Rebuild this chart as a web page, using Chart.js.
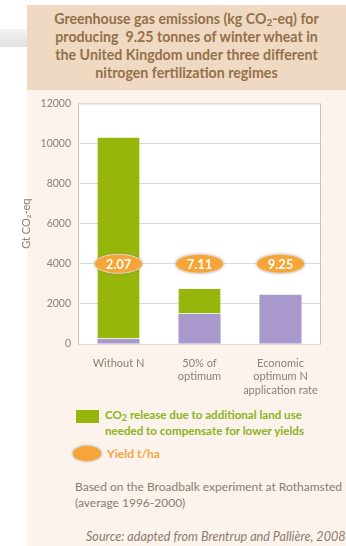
<!DOCTYPE html>
<html>
<head>
<meta charset="utf-8">
<script src="https://cdn.jsdelivr.net/npm/chart.js@4.4.0/dist/chart.umd.min.js"></script>
<style>
  body { margin: 0; background: #fff; font-family: Lato, "Open Sans", sans-serif; }
  #page { position: relative; width: 346px; height: 546px; overflow: hidden; background: #fff; }
  #stripe { position: absolute; left: 0; top: 29px; width: 40px; height: 18px;
            background: linear-gradient(to bottom, #f3f3f3, #e2e2e2); }
  #head { position: absolute; left: 27px; top: 5px; width: 319px; height: 85px; background: #f0d9c3; }
  #title { position: absolute; left: 27px; top: 10px; width: 319px; text-align: center;
           font-weight: bold; font-size: 14.2px; line-height: 18px; color: #93704a; }
  #title sub { font-size: 10px; vertical-align: -2px; line-height: 0; }
  #body { position: absolute; left: 27px; top: 90px; width: 319px; height: 456px; background: #fbf3ec; }
  #chart { position: absolute; left: 0; top: 90px; }
  .txt { position: absolute; font-size: 12px; line-height: 16px; white-space: nowrap; }
  .green { color: #8fb21c; font-weight: bold; font-size: 11.6px; }
  .orange { color: #f5a53c; font-weight: bold; }
  .note { color: #8e7c6b; }
  .txt sub { font-size: 9px; vertical-align: -2px; line-height: 0; }
  #sw1 { position: absolute; left: 76px; top: 410px; width: 23px; height: 13px; background: #97b60c; }
  #sw2 { position: absolute; left: 73px; top: 446px; width: 28px; height: 15px; border-radius: 50%;
         background: #f6a538; box-shadow: 0 0 2px 1px #c9bdb2; }
</style>
</head>
<body>
<div id="page">
  <div id="stripe"></div>
  <div id="head"></div>
  <div id="title">Greenhouse gas emissions (kg CO<sub>2</sub>-eq) for<br>producing&nbsp; 9.25 tonnes of winter wheat in<br>the United Kingdom under three different<br>nitrogen fertilization regimes</div>
  <div id="body"></div>
  <canvas id="chart" width="346" height="310"></canvas>
  <div id="sw1"></div>
  <div class="txt green" style="left:105px; top:407px;">CO<sub>2</sub> release due to additional land use<br>needed to compensate for lower yields</div>
  <div id="sw2"></div>
  <div class="txt orange" style="left:107px; top:446px;">Yield t/ha</div>
  <div class="txt note" style="left:75px; top:479px;">Based on the Broadbalk experiment at Rothamsted<br>(average 1996-2000)</div>
  <div class="txt note" style="left:86px; top:529px; font-style: italic; font-size: 12.6px;">Source: adapted from Brentrup and Pallière, 2008</div>
</div>
<script>
// categories and values
var categories = [["Without N"], ["50% of", "optimum"], ["Economic", "optimum N", "application rate"]];
var baseEmissions = [250, 1500, 2450];        // purple part
var landUseEmissions = [10050, 1250, 0];      // green part
var yields = ["2.07", "7.11", "9.25"];       // t/ha
var yTicks = [0, 2000, 4000, 6000, 8000, 10000, 12000];

var axisGray = '#8e8073';

// white plot box with grey frame
var plotBox = {
  id: 'plotBox',
  beforeDraw: function(chart) {
    var a = chart.chartArea, c = chart.ctx;
    c.save();
    c.fillStyle = '#ffffff';
    c.fillRect(a.left, a.top, a.right - a.left, a.bottom - a.top);
    c.strokeStyle = '#c8c2bb';
    c.lineWidth = 1;
    c.strokeRect(a.left + 0.5, a.top + 0.5, a.right - a.left - 1, a.bottom - a.top);
    c.restore();
  }
};

// orange yield ovals sitting on the 4000 line
var yieldOvals = {
  id: 'yieldOvals',
  afterDatasetsDraw: function(chart) {
    var c = chart.ctx;
    var meta = chart.getDatasetMeta(0);
    var y = chart.scales.y.getPixelForValue(4000);
    c.save();
    meta.data.forEach(function(bar, i) {
      c.beginPath();
      c.ellipse(bar.x, y, 24, 9.5, 0, 0, Math.PI * 2);
      c.fillStyle = '#f6a538';
      c.shadowColor = 'rgba(120,100,90,0.6)';
      c.shadowBlur = 3;
      c.fill();
      c.shadowBlur = 0;
      c.lineWidth = 1;
      c.strokeStyle = '#e8d9c8';
      c.stroke();
      c.fillStyle = '#ffffff';
      c.font = 'bold 13px Lato';
      c.textAlign = 'center';
      c.textBaseline = 'middle';
      c.fillText(yields[i], bar.x, y + 1);
    });
    c.restore();
  }
};

new Chart(document.getElementById('chart').getContext('2d'), {
  type: 'bar',
  data: {
    labels: categories,
    datasets: [{
        label: 'Emissions',
        data: baseEmissions,
        backgroundColor: '#a898cb',
        borderWidth: 0
      },
      {
        label: 'CO2 release due to additional land use',
        data: landUseEmissions,
        backgroundColor: '#97b60c',
        borderColor: '#e9f0d0',
        borderWidth: { bottom: 1, top: 0, left: 0, right: 0 },
        borderSkipped: false
      }
    ]
  },
  options: {
    responsive: false,
    animation: false,
    layout: { padding: { left: 18, right: 25, top: 13, bottom: 0 } },
    plugins: { legend: { display: false }, tooltip: { enabled: false } },
    datasets: { bar: { barPercentage: 0.52, categoryPercentage: 1 } },
    scales: {
      x: {
        stacked: true,
        grid: { display: false },
        border: { display: false },
        ticks: { color: axisGray, font: { family: 'Lato', size: 11 }, padding: 5, maxRotation: 0 },
        afterFit: function(s) { s.height = 56; }
      },
      y: {
        stacked: true,
        min: 0,
        max: 12000,
        afterBuildTicks: function(s) { s.ticks = yTicks.map(function(v) { return { value: v }; }); },
        grid: { color: '#dcd8d3', drawTicks: false },
        border: { display: false },
        ticks: {
          color: axisGray, font: { family: 'Lato', size: 10.5 }, padding: 7,
          callback: function(v) { return String(v); }
        },
        title: { display: true, text: 'Gt CO₂-eq', color: axisGray, font: { family: 'Lato', size: 11 }, padding: 2 },
        afterFit: function(s) { s.width = 60; }
      }
    }
  },
  plugins: [plotBox, yieldOvals]
});
</script>
</body>
</html>
